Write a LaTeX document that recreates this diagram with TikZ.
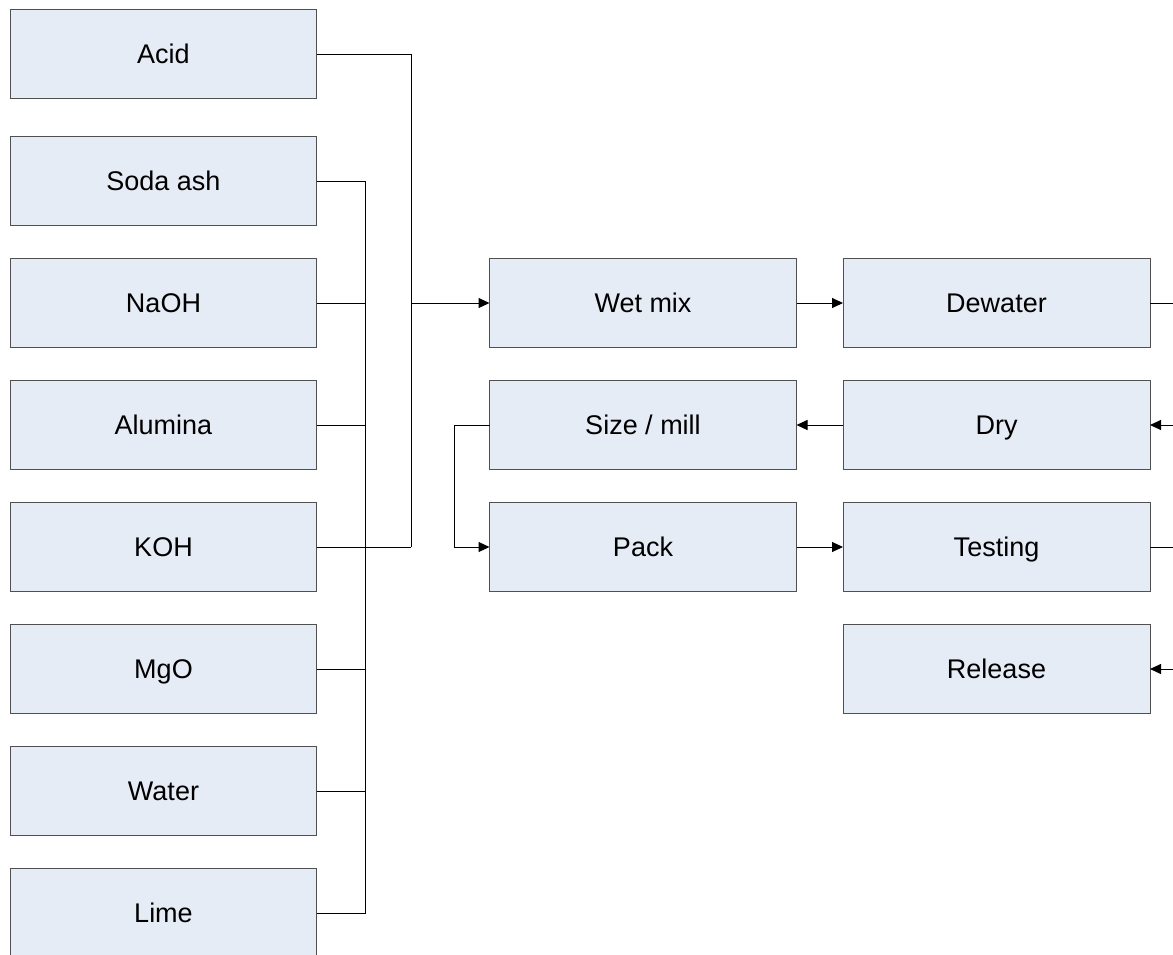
\documentclass[tikz,border=0pt]{standalone}
\usepackage{fontspec}
\setmainfont{Liberation Sans}
\usetikzlibrary{arrows.meta}
\definecolor{boxfill}{HTML}{E6ECF6}
\definecolor{boxline}{HTML}{505050}
\tikzset{
  procbox/.style={draw=boxline, fill=boxfill, line width=1pt, inner sep=0pt, outer sep=0pt,
    minimum height=88.5pt, text height=19.4pt, text depth=0pt, font=\fontsize{27}{32}\selectfont},
  leftbox/.style={procbox, minimum width=306pt},
  rightbox/.style={procbox, minimum width=307pt},
  conn/.style={draw=black, line width=1pt},
  arr/.style={conn, -{Triangle[length=11pt,width=10pt]}}
}
\begin{document}
\begin{tikzpicture}[x=1pt,y=-1pt]
\useasboundingbox (0,0) rectangle (1173,954);
% left column
\node[leftbox] (acid) at (163.5,54) {Acid};
\node[leftbox] (soda) at (163.5,181) {Soda ash};
\node[leftbox] (naoh) at (163.5,303) {NaOH};
\node[leftbox] (alum) at (163.5,425) {Alumina};
\node[leftbox] (koh) at (163.5,547) {KOH};
\node[leftbox] (mgo) at (163.5,669) {MgO};
\node[leftbox] (water) at (163.5,791) {Water};
\node[leftbox] (lime) at (163.5,913) {Lime};
% middle column
\node[rightbox] (wet) at (643,303) {Wet mix};
\node[rightbox] (size) at (643,425) {Size / mill};
\node[rightbox] (pack) at (643,547) {Pack};
% right column
\node[rightbox] (dew) at (996.5,303) {Dewater};
\node[rightbox] (dry) at (996.5,425) {Dry};
\node[rightbox] (test) at (996.5,547) {Testing};
\node[rightbox] (rel) at (996.5,669) {Release};
% helper coordinates
\coordinate (bus) at (365,0);
\coordinate (jA) at (411,547);
\coordinate (loop) at (454,425);
\coordinate (e1) at (1173,303);
\coordinate (e2) at (1173,425);
\coordinate (e3) at (1173,547);
\coordinate (e4) at (1173,669);
% collector bus
\draw[conn] (soda.east) -| (lime.east -| bus) -- (lime.east);
\foreach \n in {naoh,alum,mgo,water} \draw[conn] (\n.east) -- (\n.east -| bus);
\draw[conn] (koh.east) -- (jA);
\draw[conn] (acid.east) -| (jA);
\draw[arr] (wet.west -| jA) -- (wet.west);
% process
\draw[arr] (wet.east) -- (dew.west);
\draw[conn] (dew.east) -- (e1);
\draw[arr] (e2) -- (dry.east);
\draw[arr] (dry.west) -- (size.east);
\draw[arr] (size.west) -- (loop) |- (pack.west);
\draw[arr] (pack.east) -- (test.west);
\draw[conn] (test.east) -- (e3);
\draw[arr] (e4) -- (rel.east);
\end{tikzpicture}
\end{document}
